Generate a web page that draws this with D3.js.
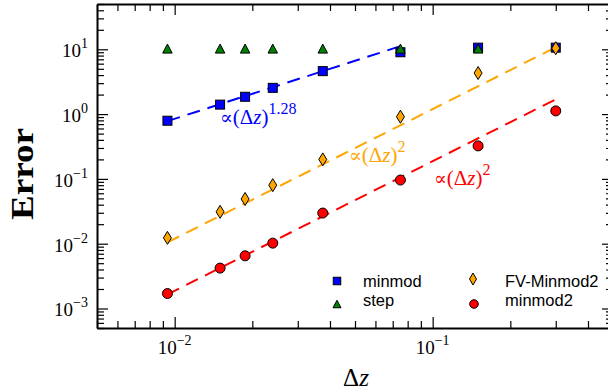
<!DOCTYPE html>
<html><head><meta charset="utf-8">
<script src="https://cdn.jsdelivr.net/npm/d3@7/dist/d3.min.js"></script>
<style>body{margin:0;background:#fff}svg{display:block}</style>
</head><body>
<svg id="c" width="608" height="392"></svg>
<script>
// ---- data ----
const dz        = [0.009375, 0.015, 0.01875, 0.024, 0.0375, 0.075, 0.15, 0.3];
const minmod    = [0.79, 1.40, 1.85, 2.54, 4.6, 9.0, 10.6, 10.6];
const step      = [10.25, 10.25, 10.25, 10.25, 10.25, 10.25, 10.25];
const fvMinmod2 = [0.0123, 0.031, 0.049, 0.080, 0.20, 0.91, 4.3, 10.4];
const minmod2   = [0.0017, 0.0042, 0.0065, 0.0102, 0.0297, 0.096, 0.323, 1.12];
// fitted power laws: [xStart, xEnd, valueAtStart, exponent]
const fitNames  = ["minmod", "FV-Minmod2", "minmod2"];
const fitX0     = [0.009375, 0.009375, 0.009375];
const fitX1     = [0.075, 0.3, 0.3];
const fitY0     = [0.78, 0.0105, 0.00165];
const fitExp    = [1.28, 2, 2];
const fitLabels = ["1.28", "2", "2"];
const xMajor = [0.01, 0.1];
const xMajorLabels = ["\u22122", "\u22121"];
const yMajor = [1e-3, 1e-2, 1e-1, 1, 10];
const yMajorLabels = ["\u22123", "\u22122", "\u22121", "0", "1"];

const svg = d3.select("#c");
const L = 97, R = 613, T = 4, B = 328;
const x = d3.scaleLog().domain([0.005, 0.5]).range([L, R]);
const y = d3.scaleLog().domain([5e-4, 50]).range([B, T]);

function minors(lo, hi) {
  const out = [];
  for (let e = Math.floor(Math.log10(lo)); e <= Math.ceil(Math.log10(hi)); e++)
    for (let m = 2; m <= 9; m++) { const v = m * Math.pow(10, e); if (v >= lo * 0.999 && v <= hi * 1.001) out.push(v); }
  return out;
}
const xMinor = minors(0.005, 0.5);
const yMinor = minors(5e-4, 50);

function drawAxis(gen, tr, vals, size, showDomain) {
  const g = svg.append("g").attr("transform", tr)
    .call(gen.tickValues(vals).tickSizeInner(-size).tickSizeOuter(0).tickFormat(""));
  g.selectAll(".tick line").attr("stroke", "#000").attr("stroke-width", 1.2);
  g.select(".domain").attr("stroke", showDomain ? "#000" : "none").attr("stroke-width", 2);
  return g;
}
drawAxis(d3.axisBottom(x), `translate(0,${B})`, xMinor, 7, false);
drawAxis(d3.axisBottom(x), `translate(0,${B})`, xMajor, 11, true);
drawAxis(d3.axisTop(x), `translate(0,${T})`, xMinor, 7, false);
drawAxis(d3.axisTop(x), `translate(0,${T})`, xMajor, 11, true);
drawAxis(d3.axisLeft(y), `translate(${L},0)`, yMinor, 7, false);
drawAxis(d3.axisLeft(y), `translate(${L},0)`, yMajor, 11, true);
drawAxis(d3.axisRight(y), `translate(${R},0)`, yMinor, 7, false);
drawAxis(d3.axisRight(y), `translate(${R},0)`, yMajor, 11, true);

const serif = "'Liberation Serif','DejaVu Serif',serif";
// tick labels
xMajor.forEach((v, i) => {
  const t = svg.append("text").attr("x", x(v)).attr("y", 354).attr("text-anchor", "middle")
    .attr("font-family", serif).attr("font-size", 19).attr("fill", "#000");
  t.append("tspan").text("10");
  t.append("tspan").attr("dy", -9).attr("font-size", 14).text(xMajorLabels[i]);
});
yMajor.forEach((v, i) => {
  const t = svg.append("text").attr("x", 88).attr("y", y(v) + 8).attr("text-anchor", "end")
    .attr("font-family", serif).attr("font-size", 19).attr("fill", "#000");
  t.append("tspan").text("10");
  t.append("tspan").attr("dy", -9).attr("font-size", 14).text(yMajorLabels[i]);
});

// axis titles
svg.append("text").attr("transform", "translate(33,174) rotate(-90)").attr("text-anchor", "middle")
  .attr("font-family", serif).attr("font-weight", "bold").attr("font-size", 31)
  .attr("textLength", 92).attr("lengthAdjust", "spacingAndGlyphs").text("Error");
const xt = svg.append("text").attr("x", 356).attr("y", 386).attr("text-anchor", "middle")
  .attr("font-family", serif).attr("font-size", 25);
xt.append("tspan").text("\u0394");
xt.append("tspan").attr("font-style", "italic").text("z");

// fit lines
const colors = ["#0000ff", "#ffa500", "#ff0000"];
const line = d3.line().x(d => x(d[0])).y(d => y(d[1]));
fitNames.forEach((n, i) => {
  const pts = [[fitX0[i], fitY0[i]], [fitX1[i], fitY0[i] * Math.pow(fitX1[i] / fitX0[i], fitExp[i])]];
  svg.append("path").attr("d", line(pts)).attr("fill", "none").attr("stroke", colors[i])
    .attr("stroke-width", 2).attr("stroke-dasharray", "13,8");
});

// markers
function sq(g, cx, cy, s, fill) { g.append("rect").attr("x", cx - s / 2).attr("y", cy - s / 2).attr("width", s).attr("height", s).attr("fill", fill).attr("stroke", "#000").attr("stroke-width", 1); }
function tri(g, cx, cy, w, h, fill) { g.append("path").attr("d", `M${cx},${cy - h / 2}L${cx + w / 2},${cy + h / 2}L${cx - w / 2},${cy + h / 2}Z`).attr("fill", fill).attr("stroke", "#000").attr("stroke-width", 1); }
function dia(g, cx, cy, w, h, fill) { g.append("path").attr("d", `M${cx},${cy - h / 2}L${cx + w / 2},${cy}L${cx},${cy + h / 2}L${cx - w / 2},${cy}Z`).attr("fill", fill).attr("stroke", "#000").attr("stroke-width", 1); }
function circ(g, cx, cy, r, fill) { g.append("circle").attr("cx", cx).attr("cy", cy).attr("r", r).attr("fill", fill).attr("stroke", "#000").attr("stroke-width", 1); }

const gm = svg.append("g");
minmod.forEach((v, i) => sq(gm, x(dz[i]), y(v), 9, "#0000ff"));
step.forEach((v, i) => tri(gm, x(dz[i]), y(v), 9.5, 9, "#008000"));
fvMinmod2.forEach((v, i) => dia(gm, x(dz[i]), y(v), 8, 13, "#ffa500"));
minmod2.forEach((v, i) => circ(gm, x(dz[i]), y(v), 5, "#ff0000"));

// annotations
const ann = [[220, 124], [349, 162], [434, 185]];
fitNames.forEach((n, i) => {
  const t = svg.append("text").attr("x", ann[i][0]).attr("y", ann[i][1])
    .attr("font-family", serif).attr("font-size", 21).attr("fill", colors[i]);
  t.append("tspan").attr("font-family", "'DejaVu Serif',serif").attr("font-size", 19).text("\u221D");
  t.append("tspan").text("(\u0394");
  t.append("tspan").attr("font-style", "italic").text("z");
  t.append("tspan").text(")");
  t.append("tspan").attr("dy", -10).attr("font-size", 16).text(fitLabels[i]);
});

// legend
const sans = "'Liberation Sans',Arial,sans-serif";
const lg = svg.append("g");
sq(lg, 337, 281, 7.5, "#0000ff");
tri(lg, 337, 304, 8, 7.5, "#008000");
dia(lg, 473, 279, 7, 12, "#ffa500");
circ(lg, 474, 304, 4.3, "#ff0000");
const legText = [["minmod", 363, 286.5], ["step", 363, 306], ["FV-Minmod2", 505, 286.5], ["minmod2", 505, 306]];
legText.forEach(d => lg.append("text").attr("x", d[1]).attr("y", d[2]).attr("font-family", sans)
  .attr("font-size", 16.5).attr("fill", "#000").text(d[0]));
</script>
</body></html>
